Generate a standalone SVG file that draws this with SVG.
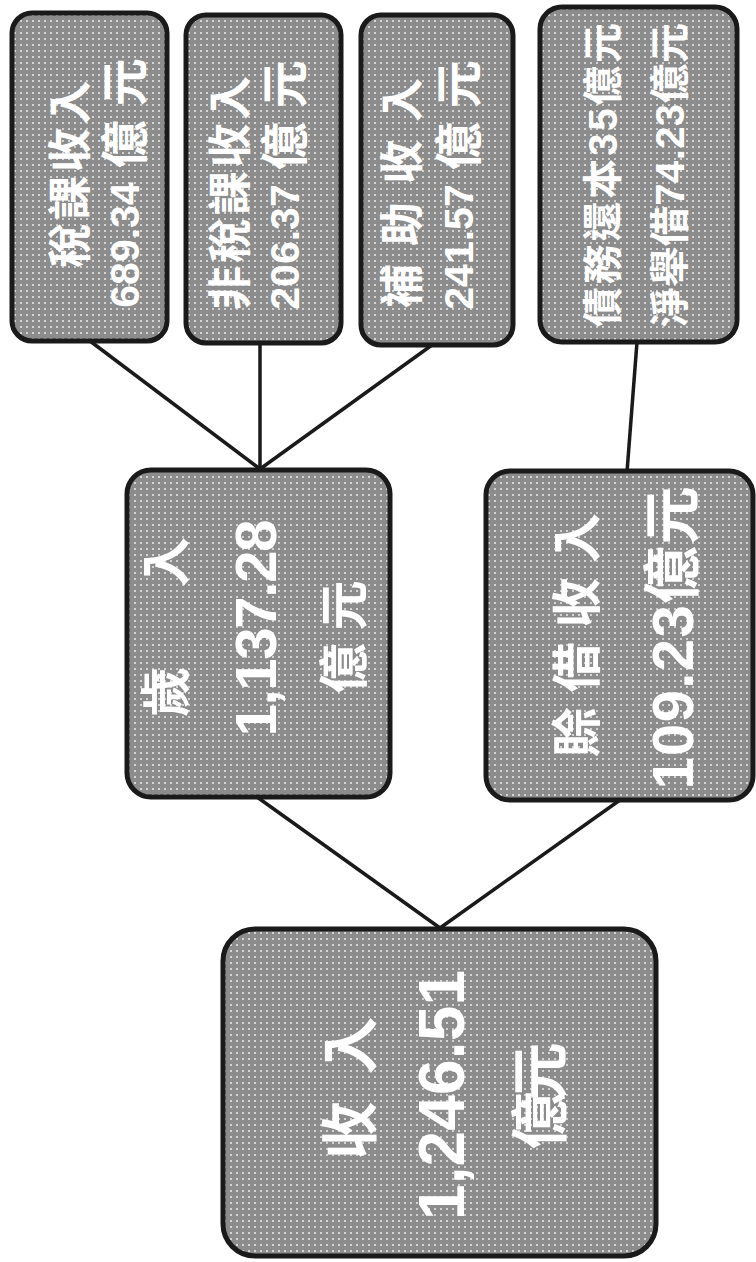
<svg xmlns="http://www.w3.org/2000/svg" width="756" height="1262" viewBox="0 0 756 1262">
  <defs>
    <pattern id="halftone" width="6" height="6" patternUnits="userSpaceOnUse">
      <rect width="6" height="6" fill="#8c8c8c"/>
      <rect x="2" y="2" width="2" height="2" fill="#d4d4d4"/>
    </pattern>
  </defs>
  <style>
    .box { fill: url(#halftone); stroke: #1a1a1a; stroke-width: 5; }
    .lbl { fill: #ffffff; font-family: "Liberation Sans", "Noto Sans CJK TC", sans-serif; font-weight: bold; text-anchor: middle; dominant-baseline: central; }
    .s { font-size: 44px; }
    .sd { font-size: 40px; }
    .num { font-size: 41px; }
    .unit { font-size: 48px; letter-spacing: 14px; }
    .m { font-size: 50px; }
    .l { font-size: 58px; }
    .xl { font-size: 64px; }
    .conn { stroke: #1a1a1a; stroke-width: 3.5; fill: none; }
  </style>
  <rect width="756" height="1262" fill="#ffffff"/>

  <g id="connectors">
    <line class="conn" x1="90" y1="341" x2="260" y2="469"/>
    <line class="conn" x1="260" y1="343" x2="260" y2="469"/>
    <line class="conn" x1="432" y1="345" x2="260" y2="469"/>
    <line class="conn" x1="637" y1="342" x2="627" y2="472"/>
    <line class="conn" x1="257" y1="797" x2="440" y2="928"/>
    <line class="conn" x1="620" y1="800" x2="440" y2="928"/>
  </g>

  <g id="n-tax">
    <rect class="box" x="12" y="13" width="155" height="328" rx="20"/>
    <text class="lbl s" x="70" y="174" transform="rotate(-90 70 174)" textLength="187" lengthAdjust="spacing">稅課收入</text>
    <text class="lbl" x="125" y="176" transform="rotate(-90 125 176)"><tspan class="num">689.34</tspan><tspan class="unit" dx="14">億元</tspan></text>
  </g>

  <g id="n-nontax">
    <rect class="box" x="186" y="15" width="155" height="328" rx="20"/>
    <text class="lbl s" x="230" y="193" transform="rotate(-90 230 193)" textLength="234" lengthAdjust="spacing">非稅課收入</text>
    <text class="lbl" x="285" y="178" transform="rotate(-90 285 178)"><tspan class="num">206.37</tspan><tspan class="unit" dx="14">億元</tspan></text>
  </g>

  <g id="n-subsidy">
    <rect class="box" x="361" y="15" width="152" height="330" rx="20"/>
    <text class="lbl s" x="402" y="193" transform="rotate(-90 402 193)" textLength="230" lengthAdjust="spacing">補助收入</text>
    <text class="lbl" x="459" y="178" transform="rotate(-90 459 178)"><tspan class="num">241.57</tspan><tspan class="unit" dx="14">億元</tspan></text>
  </g>

  <g id="n-debt">
    <rect class="box" x="540" y="7" width="197" height="335" rx="22"/>
    <text class="lbl sd" x="603" y="175" transform="rotate(-90 603 175)" textLength="304" lengthAdjust="spacing">債務還本35億元</text>
    <text class="lbl sd" x="670" y="175" transform="rotate(-90 670 175)" textLength="304" lengthAdjust="spacing">淨舉借74.23億元</text>
  </g>

  <g id="n-annual">
    <rect class="box" x="127" y="470" width="263" height="327" rx="24"/>
    <text class="lbl m" x="167" y="627" transform="rotate(-90 167 627)" textLength="180" lengthAdjust="spacing">歲 入</text>
    <text class="lbl l" x="255" y="628" transform="rotate(-90 255 628)" textLength="217" lengthAdjust="spacing">1,137.28</text>
    <text class="lbl m" x="345" y="637" transform="rotate(-90 345 637)" textLength="113" lengthAdjust="spacing">億元</text>
  </g>

  <g id="n-borrow">
    <rect class="box" x="486" y="471" width="267" height="329" rx="24"/>
    <text class="lbl m" x="578" y="635" transform="rotate(-90 578 635)" textLength="244" lengthAdjust="spacing">賒借收入</text>
    <text class="lbl l" x="672" y="638" transform="rotate(-90 672 638)" textLength="303" lengthAdjust="spacing">109.23億元</text>
  </g>

  <g id="n-total">
    <rect class="box" x="223" y="929" width="433" height="327" rx="32"/>
    <text class="lbl l" x="350" y="1088" transform="rotate(-90 350 1088)" textLength="143" lengthAdjust="spacing">收入</text>
    <text class="lbl xl" x="442" y="1095" transform="rotate(-90 442 1095)" textLength="250" lengthAdjust="spacing">1,246.51</text>
    <text class="lbl l" x="540" y="1096" transform="rotate(-90 540 1096)" textLength="107" lengthAdjust="spacing">億元</text>
  </g>
</svg>
